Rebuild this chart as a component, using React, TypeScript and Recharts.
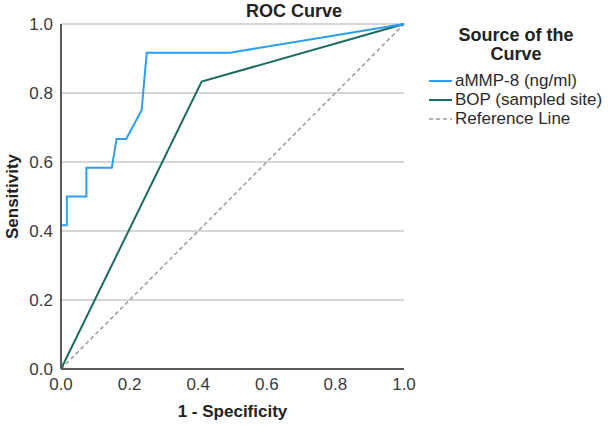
import { LineChart, Line, XAxis, YAxis, CartesianGrid, Label } from "recharts";

// 1 - specificity / sensitivity pairs
const mmpFpr = [0, 0, 0.017, 0.017, 0.074, 0.074, 0.148, 0.162, 0.19, 0.235, 0.25, 0.493, 1];
const mmpTpr = [0, 0.417, 0.417, 0.5, 0.5, 0.583, 0.583, 0.667, 0.667, 0.75, 0.917, 0.917, 1];
const bopFpr = [0, 0.41, 1];
const bopTpr = [0, 0.833, 1];
const refFpr = [0, 1];
const refTpr = [0, 1];
const ticks = [0, 0.2, 0.4, 0.6, 0.8, 1];

const legendItems = [
  { name: "aMMP-8 (ng/ml)", color: "#2a9df4", dash: "" },
  { name: "BOP (sampled site)", color: "#1a6b62", dash: "" },
  { name: "Reference Line", color: "#999999", dash: "4 3" },
];

const toPoints = (xs: number[], ys: number[]) => xs.map((x, i) => ({ x, y: ys[i] }));

const font = "'Liberation Sans', Arial, sans-serif";
const tickStyle = { fontSize: 17, fill: "#3a3a3a", fontFamily: font };
const axisTitle = { fontSize: 17, fontWeight: 700, fill: "#222", fontFamily: font };

export default function App() {
  return (
    <div style={{ position: "absolute", left: 0, top: 0, width: 610, height: 426, background: "#fff", fontFamily: font }}>
      <LineChart width={610} height={426} margin={{ top: 24, right: 206, bottom: 0, left: 0 }}>
        <CartesianGrid vertical={false} stroke="#c8c8c8" strokeWidth={1.5} />
        <XAxis
          type="number"
          dataKey="x"
          domain={[0, 1]}
          ticks={ticks}
          tickFormatter={(v: number) => v.toFixed(1)}
          height={57}
          tick={tickStyle}
          tickLine={false}
          axisLine={{ stroke: "#5a5a5a", strokeWidth: 2 }}
          tickMargin={3}
        >
          <Label value="1 - Specificity" position="insideBottom" offset={9} style={axisTitle} />
        </XAxis>
        <YAxis
          type="number"
          dataKey="y"
          domain={[0, 1]}
          ticks={ticks}
          tickFormatter={(v: number) => v.toFixed(1)}
          width={61}
          tick={tickStyle}
          tickLine={false}
          axisLine={{ stroke: "#5a5a5a", strokeWidth: 2 }}
          tickMargin={2}
        >
          <Label value="Sensitivity" angle={-90} position="insideLeft" offset={12} style={{ ...axisTitle, textAnchor: "middle" }} />
        </YAxis>
        <Line data={toPoints(refFpr, refTpr)} dataKey="y" type="linear" stroke="#999999" strokeWidth={1.5} strokeDasharray="4 3" dot={false} isAnimationActive={false} />
        <Line data={toPoints(bopFpr, bopTpr)} dataKey="y" type="linear" stroke="#1a6b62" strokeWidth={2} dot={false} isAnimationActive={false} />
        <Line data={toPoints(mmpFpr, mmpTpr)} dataKey="y" type="linear" stroke="#2a9df4" strokeWidth={2} dot={false} isAnimationActive={false} />
      </LineChart>
      <div style={{ position: "absolute", left: 234, top: 1, width: 120, textAlign: "center", fontSize: 18, fontWeight: 700, color: "#222" }}>
        ROC Curve
      </div>
      <div style={{ position: "absolute", left: 436, top: 26, width: 160, textAlign: "center", fontSize: 18, fontWeight: 700, color: "#222", lineHeight: "19px" }}>
        Source of the
        <br />
        Curve
      </div>
      {legendItems.map((item, i) => (
        <div key={item.name} style={{ position: "absolute", left: 429, top: 71 + i * 19, height: 20, display: "flex", alignItems: "center", fontSize: 17, color: "#2a2a2a", whiteSpace: "nowrap" }}>
          <svg width={25} height={4} style={{ marginRight: 1 }}>
            <line x1={0} y1={2} x2={23} y2={2} stroke={item.color} strokeWidth={item.dash ? 1.5 : 2} strokeDasharray={item.dash || undefined} />
          </svg>
          {item.name}
        </div>
      ))}
    </div>
  );
}
